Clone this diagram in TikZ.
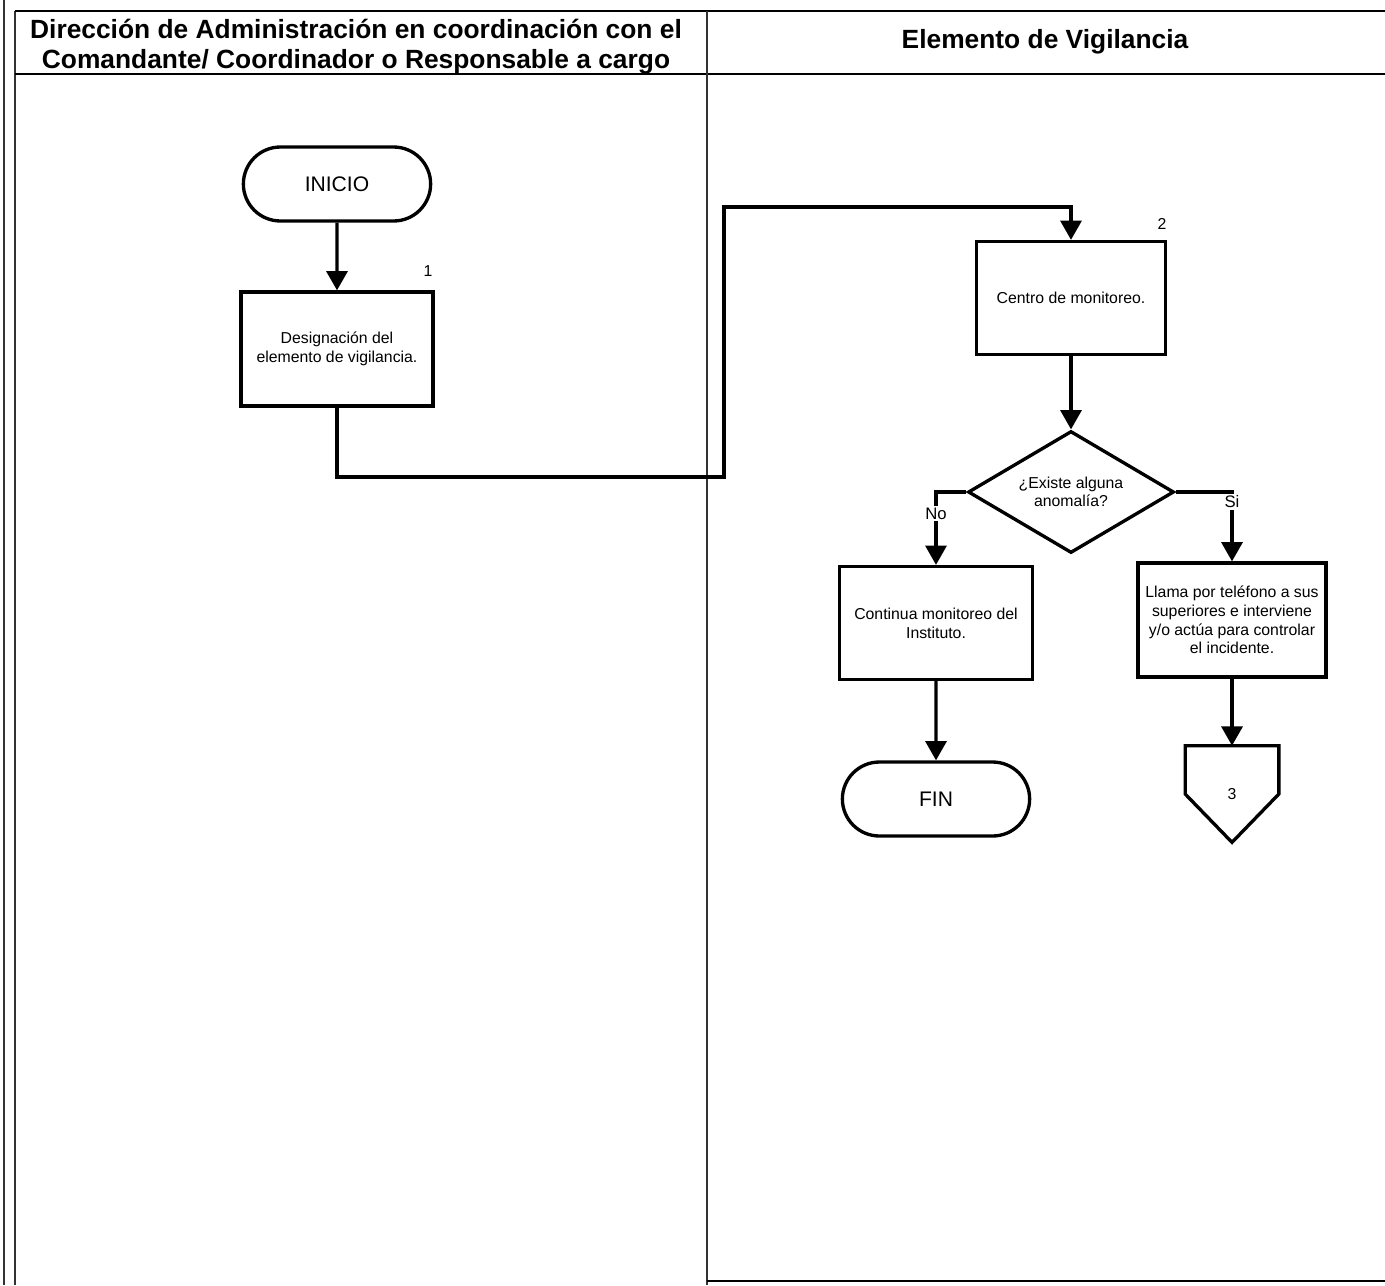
\documentclass[tikz,border=0pt]{standalone}
\usepackage{fontspec}
\setmainfont{Liberation Sans}
\usetikzlibrary{shapes.geometric,shapes.misc,arrows.meta}
\begin{document}
\begin{tikzpicture}[x=0.02cm,y=-0.02cm,
 conn/.style={line width=1.9pt},
 arr/.style={conn,-{Triangle[width=12pt,length=11pt]}},
 proc/.style={draw,line width=1.9pt,minimum width=3.84cm,minimum height=2.28cm,align=center,font=\fontsize{9}{10.8}\selectfont,inner sep=2pt},
 term/.style={draw,rounded rectangle,line width=1.9pt,minimum width=3.98cm,minimum height=1.48cm,font=\fontsize{12}{14}\selectfont},
 lane/.style={line width=0.6pt,draw=black!80},
 hdr/.style={line width=1.1pt},
 htext/.style={font=\bfseries\fontsize{15}{17}\selectfont,align=center},
 num/.style={font=\fontsize{9}{11}\selectfont},
 lbl/.style={font=\fontsize{9.5}{11}\selectfont,fill=white,inner sep=1pt}
]
\useasboundingbox (0,0) rectangle (1385,1285);
% lanes
\draw[lane] (4,0) -- (4,1285);
\draw[lane] (15,11) -- (15,1285);
\draw[hdr] (15,11) -- (1385,11);
\draw[hdr] (15,74) -- (1385,74);
\draw[lane] (707,11) -- (707,1285);
\draw[hdr] (707,1281) -- (1385,1281);
\node[htext] (h1) at (356,47) {Dirección de Administración en coordinación con el\\Comandante/ Coordinador o Responsable a cargo};
\node[htext] (h2) at (1045,42) {Elemento de Vigilancia};
% nodes
\node[term] (ini) at (337,184) {INICIO};
\node[proc] (b1) at (337,349) {Designación del\\elemento de vigilancia.};
\node[num] (n1) at (428,271) {1};
\node[proc,minimum width=3.78cm,minimum height=2.26cm] (b2) at (1071,298) {Centro de monitoreo.};
\node[num] (n2) at (1162,224) {2};
\node[diamond,draw,line width=1.9pt,minimum width=4.12cm,minimum height=2.44cm,inner sep=0pt,aspect=1.69,align=center,font=\fontsize{9}{10.2}\selectfont] (d) at (1071,492) {¿Existe alguna\\anomalía?};
\node[proc,minimum width=3.86cm,minimum height=2.26cm] (b3) at (936,623) {Continua monitoreo del\\Instituto.};
\node[proc,minimum width=3.76cm,minimum height=2.28cm,font=\fontsize{9}{10.6}\selectfont] (b4) at (1232,620) {Llama por teléfono a sus\\superiores e interviene\\y/o actúa para controlar\\el incidente.};
\node[term] (fin) at (936,799) {FIN};
\node[num,minimum width=1.86cm,minimum height=1.92cm,inner sep=0pt] (off) at (1232,794) {3};
\draw[conn] (off.north west) -- (off.north east) -- (off.east) -- (off.south) -- (off.west) -- cycle;
% connectors
\coordinate (j1) at (724,477);
\coordinate (j2) at (724,207);
\draw[arr] (ini) -- (b1);
\draw[arr] (b1.south) |- (j1) -- (j2) -| (b2.north);
\draw[arr] (b2) -- (d);
\draw[arr] (d.west) -| node[lbl,pos=0.65]{No} (b3.north);
\draw[arr] (d.east) -| node[lbl,pos=0.57]{Si} (b4.north);
\draw[arr] (b3) -- (fin);
\draw[arr] (b4) -- (off.north);
\end{tikzpicture}
\end{document}
